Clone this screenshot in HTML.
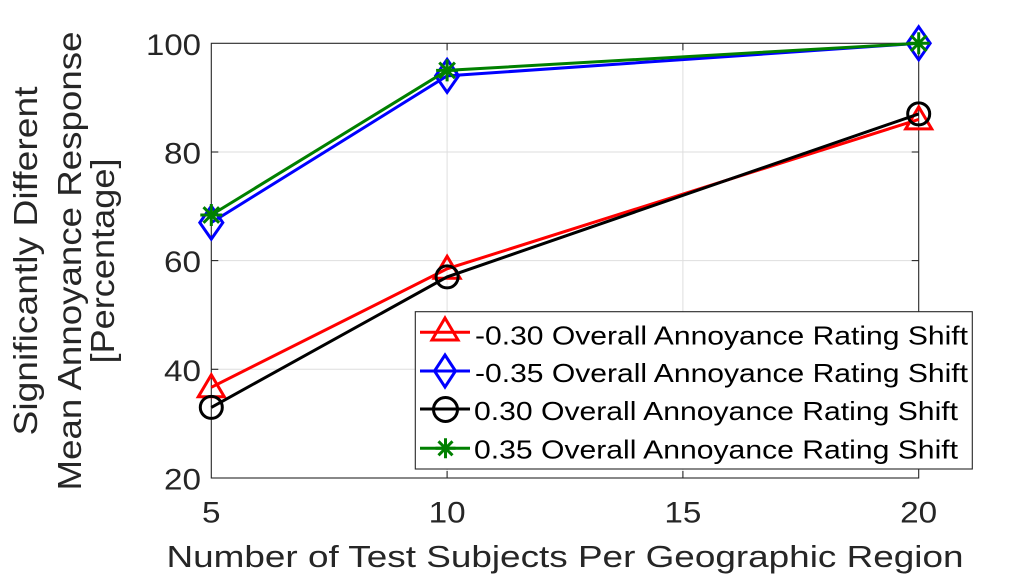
<!DOCTYPE html>
<html>
<head>
<meta charset="utf-8">
<style>
  html, body { margin: 0; padding: 0; background: #ffffff; }
  svg { display: block; }
  text { font-family: "Liberation Sans", Arial, sans-serif; }
</style>
</head>
<body>
<svg width="1015" height="578" viewBox="0 0 1015 578" xmlns="http://www.w3.org/2000/svg">
  <rect x="0" y="0" width="1015" height="578" fill="#ffffff"/>

  <!-- grid -->
  <g stroke="#dedede" stroke-width="1" fill="none">
    <line x1="447.1" y1="43.3" x2="447.1" y2="478"/>
    <line x1="682.9" y1="43.3" x2="682.9" y2="478"/>
    <line x1="211.3" y1="152" x2="918.7" y2="152"/>
    <line x1="211.3" y1="260.6" x2="918.7" y2="260.6"/>
    <line x1="211.3" y1="369.3" x2="918.7" y2="369.3"/>
  </g>

  <!-- axes box -->
  <rect x="211.3" y="43.3" width="707.4" height="434.7" fill="none" stroke="#262626" stroke-width="1.1"/>

  <!-- ticks -->
  <g stroke="#262626" stroke-width="1.1">
    <line x1="447.1" y1="478" x2="447.1" y2="471"/>
    <line x1="682.9" y1="478" x2="682.9" y2="471"/>
    <line x1="447.1" y1="43.3" x2="447.1" y2="50.3"/>
    <line x1="682.9" y1="43.3" x2="682.9" y2="50.3"/>
    <line x1="211.3" y1="152" x2="218.3" y2="152"/>
    <line x1="211.3" y1="260.6" x2="218.3" y2="260.6"/>
    <line x1="211.3" y1="369.3" x2="218.3" y2="369.3"/>
    <line x1="918.7" y1="152" x2="911.7" y2="152"/>
    <line x1="918.7" y1="260.6" x2="911.7" y2="260.6"/>
    <line x1="918.7" y1="369.3" x2="911.7" y2="369.3"/>
  </g>

  <!-- y tick labels -->
  <g fill="#262626" font-size="30" text-anchor="end">
    <text x="201" y="55" textLength="55" lengthAdjust="spacingAndGlyphs">100</text>
    <text x="201" y="163.5" textLength="37" lengthAdjust="spacingAndGlyphs">80</text>
    <text x="201" y="272.1" textLength="37" lengthAdjust="spacingAndGlyphs">60</text>
    <text x="201" y="380.8" textLength="37" lengthAdjust="spacingAndGlyphs">40</text>
    <text x="201" y="489.5" textLength="37" lengthAdjust="spacingAndGlyphs">20</text>
  </g>

  <!-- x tick labels -->
  <g fill="#262626" font-size="30" text-anchor="middle">
    <text x="211.3" y="522.7" textLength="18.5" lengthAdjust="spacingAndGlyphs">5</text>
    <text x="447.1" y="522.7" textLength="37" lengthAdjust="spacingAndGlyphs">10</text>
    <text x="682.9" y="522.7" textLength="37" lengthAdjust="spacingAndGlyphs">15</text>
    <text x="918.7" y="522.7" textLength="37" lengthAdjust="spacingAndGlyphs">20</text>
  </g>

  <!-- x label -->
  <text x="565" y="567" fill="#262626" font-size="31" text-anchor="middle" textLength="797" lengthAdjust="spacingAndGlyphs">Number of Test Subjects Per Geographic Region</text>

  <!-- y label -->
  <g fill="#262626" font-size="33" text-anchor="middle">
    <text transform="translate(37,261) rotate(-90)" x="0" y="0" textLength="349" lengthAdjust="spacingAndGlyphs">Significantly Different</text>
    <text transform="translate(81,261) rotate(-90)" x="0" y="0" textLength="459" lengthAdjust="spacingAndGlyphs">Mean Annoyance Response</text>
    <text transform="translate(114,261) rotate(-90)" x="0" y="0" textLength="205" lengthAdjust="spacingAndGlyphs">[Percentage]</text>
  </g>

  <!-- series: red -0.30 -->
  <g stroke="#ff0000" stroke-width="3" fill="none" stroke-linejoin="miter">
    <polyline points="211.3,387.3 447.1,268.8 918.7,119.4"/>
    <path d="M211.3,374.8 L224.3,396.8 L198.3,396.8 Z"/>
    <path d="M447.1,256.3 L460.1,278.3 L434.1,278.3 Z"/>
    <path d="M918.7,106.9 L931.7,128.9 L905.7,128.9 Z"/>
  </g>

  <!-- series: blue -0.35 -->
  <g stroke="#0000ff" stroke-width="3" fill="none">
    <polyline points="211.3,222.6 447.1,75.9 918.7,43.3"/>
    <path d="M211.3,206.1 L222.8,222.6 L211.3,239.1 L199.8,222.6 Z"/>
    <path d="M447.1,59.4 L458.6,75.9 L447.1,92.4 L435.6,75.9 Z"/>
    <path d="M918.7,26.8 L930.2,43.3 L918.7,59.8 L907.2,43.3 Z"/>
  </g>

  <!-- series: black 0.30 -->
  <g stroke="#000000" stroke-width="3" fill="none">
    <polyline points="211.3,407.4 447.1,276.9 918.7,113.9"/>
    <circle cx="211.3" cy="407.4" r="11"/>
    <circle cx="447.1" cy="276.9" r="11"/>
    <circle cx="918.7" cy="113.9" r="11"/>
  </g>

  <!-- series: green 0.35 -->
  <g stroke="#008000" stroke-width="3" fill="none">
    <polyline points="211.3,215 447.1,70.4 918.7,43.3"/>
    <path d="M211.3,204 V226 M200.3,215 H222.3 M203.5,207.2 L219.1,222.8 M219.1,207.2 L203.5,222.8"/>
    <path d="M447.1,59.4 V81.4 M436.1,70.4 H458.1 M439.3,62.6 L454.9,78.2 M454.9,62.6 L439.3,78.2"/>
    <path d="M918.7,32.3 V54.3 M907.7,43.3 H929.7 M910.9,35.5 L926.5,51.1 M926.5,35.5 L910.9,51.1"/>
  </g>

  <!-- legend -->
  <rect x="415.3" y="311.7" width="557" height="157.3" fill="#ffffff" stroke="#262626" stroke-width="1.1"/>
  <g stroke-width="3" fill="none">
    <line x1="420" y1="332.3" x2="470" y2="332.3" stroke="#ff0000"/>
    <path d="M445,318 L458,340 L432,340 Z" stroke="#ff0000"/>

    <line x1="420" y1="371" x2="470" y2="371" stroke="#0000ff"/>
    <path d="M445,355 L455.5,371 L445,387 L434.5,371 Z" stroke="#0000ff"/>

    <line x1="420" y1="409" x2="470" y2="409" stroke="#000000"/>
    <circle cx="445.5" cy="409.5" r="12" stroke="#000000"/>

    <line x1="420" y1="448.3" x2="470" y2="448.3" stroke="#008000"/>
    <path d="M445.5,438.3 V458.3 M435.5,448.3 H455.5 M438.5,441.3 L452.5,455.3 M452.5,441.3 L438.5,455.3" stroke="#008000"/>
  </g>
  <g fill="#000000" font-size="26">
    <text x="475" y="344.3" textLength="493" lengthAdjust="spacingAndGlyphs">-0.30 Overall Annoyance Rating Shift</text>
    <text x="475" y="382" textLength="493" lengthAdjust="spacingAndGlyphs">-0.35 Overall Annoyance Rating Shift</text>
    <text x="474" y="420.2" textLength="484" lengthAdjust="spacingAndGlyphs">0.30 Overall Annoyance Rating Shift</text>
    <text x="474" y="458.4" textLength="484" lengthAdjust="spacingAndGlyphs">0.35 Overall Annoyance Rating Shift</text>
  </g>
</svg>
</body>
</html>
